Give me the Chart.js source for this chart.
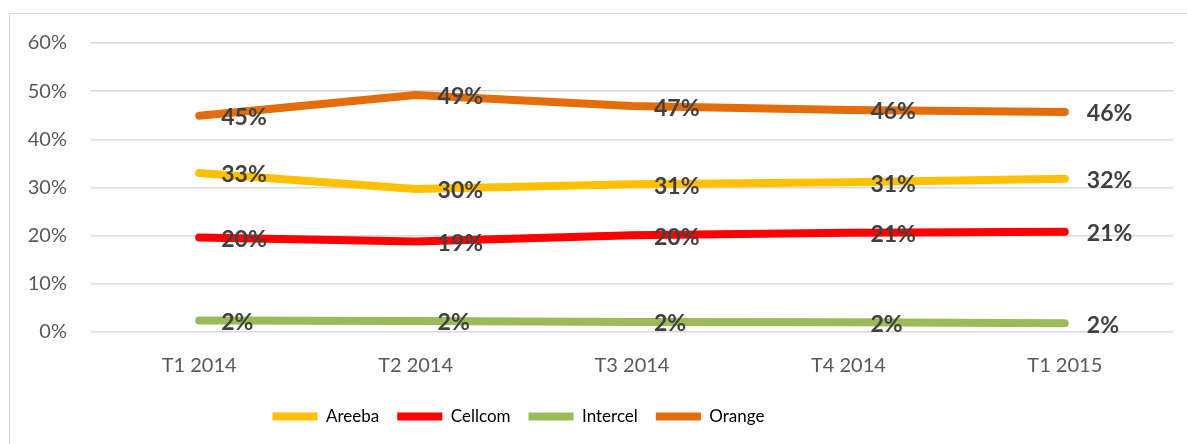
<!DOCTYPE html>
<html>
<head>
<meta charset="utf-8">
<script src="https://cdn.jsdelivr.net/npm/chart.js@4.4.0/dist/chart.umd.min.js"></script>
<style>
  body { margin: 0; background: #fff; }
  .frame { position: absolute; left: 9px; top: 13px; width: 1200px; height: 450px; border: 1px solid #d9d9d9; }
  #myChart { position: absolute; left: 0; top: -7px; }
</style>
</head>
<body>
<div class="frame">
  <canvas id="myChart" width="1177" height="437"></canvas>
</div>
<script>
var quarters = ['T1 2014', 'T2 2014', 'T3 2014', 'T4 2014', 'T1 2015'];
var areeba = [0.330, 0.297, 0.307, 0.311, 0.318];
var cellcom = [0.196, 0.188, 0.201, 0.206, 0.208];
var intercel = [0.024, 0.023, 0.021, 0.020, 0.018];
var orange = [0.449, 0.492, 0.469, 0.461, 0.457];

function pct(v) {
  return Math.round(v * 100) + '%';
}

// labels to the right of each point, like the excel one
var pointLabels = {
  id: 'pointLabels',
  afterDatasetsDraw: function (chart) {
    var ctx = chart.ctx;
    ctx.save();
    ctx.font = 'bold 23px Lato';
    ctx.fillStyle = '#404040';
    ctx.textAlign = 'left';
    ctx.textBaseline = 'middle';
    chart.data.datasets.forEach(function (ds, i) {
      var meta = chart.getDatasetMeta(i);
      meta.data.forEach(function (pt, j) {
        ctx.fillText(pct(ds.data[j]), pt.x + 22, pt.y + 2);
      });
    });
    ctx.restore();
  }
};

// the legend in the original sits left of centre, by about the axis width
var legendShift = {
  id: 'legendShift',
  afterLayout: function (chart) {
    var w = chart.scales.y.width - 8;
    chart.legend.left -= w;
    chart.legend.right -= w;
  }
};

function line(label, data, color) {
  return {
    label: label,
    data: data,
    borderColor: color,
    backgroundColor: color,
    borderWidth: 8,
    borderCapStyle: 'round',
    borderJoinStyle: 'round',
    pointRadius: 0,
    pointHoverRadius: 0,
    tension: 0
  };
}

Chart.defaults.font.family = 'Lato';

var ctx = document.getElementById('myChart').getContext('2d');
var myChart = new Chart(ctx, {
  type: 'line',
  data: {
    labels: quarters,
    datasets: [
      line('Areeba', areeba, '#FFC000'),
      line('Cellcom', cellcom, '#FF0000'),
      line('Intercel', intercel, '#9BBB59'),
      line('Orange', orange, '#E46C0A')
    ]
  },
  options: {
    responsive: false,
    animation: false,
    layout: { padding: { top: 21, right: 14, bottom: 9, left: 0 } },
    plugins: {
      tooltip: { enabled: false },
      legend: {
        position: 'bottom',
        labels: {
          color: '#595959',
          font: { size: 17 },
          boxWidth: 45,
          boxHeight: 8,
          useBorderRadius: true,
          borderRadius: 4,
          padding: 18,
          generateLabels: function (chart) {
            return chart.data.datasets.map(function (ds, i) {
              return {
                text: ds.label,
                fillStyle: ds.borderColor,
                strokeStyle: ds.borderColor,
                lineWidth: 0,
                datasetIndex: i
              };
            });
          }
        }
      }
    },
    scales: {
      x: {
        offset: true,
        grid: { display: false, drawTicks: false },
        border: { display: false },
        ticks: { color: '#595959', font: { size: 20 }, padding: 22 },
        afterFit: function (s) { s.height = 58; }
      },
      y: {
        min: 0,
        max: 0.6,
        grid: { color: '#d9d9d9', lineWidth: 1.5, drawTicks: false },
        border: { display: false },
        ticks: {
          stepSize: 0.1,
          color: '#595959',
          font: { size: 20 },
          padding: 24,
          callback: function (v) { return pct(v); }
        },
        afterFit: function (s) { s.width = 81; }
      }
    }
  },
  plugins: [pointLabels, legendShift]
});
</script>
</body>
</html>
